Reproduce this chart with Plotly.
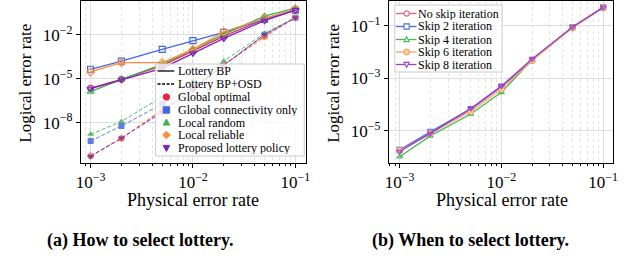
import plotly.graph_objects as go

W, H = 639, 260

# ---------------- data ----------------
p_phys = [0.001, 0.002, 0.005, 0.01, 0.02, 0.05, 0.1]

policy_names = ["Global optimal", "Global connectivity only", "Local random",
                "Local reliable", "Proposed lottery policy"]

# Lottery BP (solid)
bp_global_optimal = [2.24e-6, 9.1e-6, 7.8e-5, 7.8e-4, 8.1e-3, 0.112, 0.48]
bp_global_conn = [4.4e-5, 1.6e-4, 1.0e-3, 3.9e-3, 1.45e-2, 0.112, 0.48]
bp_local_random = [1.3e-6, 9.1e-6, 9.5e-5, 1.0e-3, 1.07e-2, 0.186, 0.66]
bp_local_reliable = [2.9e-5, 1.23e-4, 1.23e-4, 1.0e-3, 1.6e-2, 0.13, 0.56]
bp_proposed = [2.1e-6, 8.5e-6, 5.1e-5, 5.4e-4, 5.6e-3, 0.091, 0.48]

# Lottery BP+OSD (dashed)
osd_global_optimal = [5.4e-11, 8.5e-10, 6.6e-8, 1.9e-6, 8.5e-5, 7.4e-3, 0.145]
osd_global_conn = [5.6e-10, 6.0e-9, 1.9e-7, 2.6e-6, 8.5e-5, 1.0e-2, 0.145]
osd_local_random = [1.6e-9, 1.2e-8, 5.9e-7, 6.9e-6, 1.6e-4, 1.26e-2, 0.145]
osd_local_reliable = [5.4e-11, 8.5e-10, 7.9e-8, 1.9e-6, 8.5e-5, 7.4e-3, 0.145]
osd_proposed = [5.0e-11, 8.9e-10, 5.1e-8, 1.8e-6, 8.5e-5, 1.0e-2, 0.145]

# Skip iterations (right panel)
skip_names = ["No skip iteration", "Skip 2 iteration", "Skip 4 iteration",
              "Skip 6 iteration", "Skip 8 iteration"]
skip_0 = [1.74e-6, 8.5e-6, 6.6e-5, 4.8e-4, 5.1e-3, 0.089, 0.51]
skip_2 = [1.9e-6, 9.3e-6, 6.9e-5, 4.9e-4, 5.1e-3, 0.089, 0.51]
skip_4 = [1.05e-6, 6.5e-6, 4.4e-5, 2.95e-4, 5.0e-3, 0.087, 0.51]
skip_6 = [1.8e-6, 8.1e-6, 5.5e-5, 3.9e-4, 4.7e-3, 0.085, 0.50]
skip_8 = [1.66e-6, 8.1e-6, 7.2e-5, 5.1e-4, 5.5e-3, 0.091, 0.51]

x_tickvals = [1e-3, 1e-2, 1e-1]
x_ticktext = ["10<sup>−3</sup>", "10<sup>−2</sup>", "10<sup>−1</sup>"]
yl_tickvals = [1e-8, 1e-5, 1e-2]
yl_ticktext = ["10<sup>−8</sup>", "10<sup>−5</sup>", "10<sup>−2</sup>"]
yr_tickvals = [1e-5, 1e-3, 1e-1]
yr_ticktext = ["10<sup>−5</sup>", "10<sup>−3</sup>", "10<sup>−1</sup>"]

# ---------------- style ----------------
FONT = "Liberation Serif"
pol_colors = ["#e8254a", "#4169e1", "#3cb44b", "#fd8d3c", "#7d22c6"]
pol_symbols = ["circle", "square", "triangle-up", "diamond", "triangle-down"]
skip_colors = ["#e8607f", "#4a6ee0", "#44bb55", "#f8a868", "#9b40d0"]
skip_symbols = ["circle-open", "square-open", "triangle-up-open", "circle", "triangle-down-open"]

bp_series = [bp_global_optimal, bp_global_conn, bp_local_random, bp_local_reliable, bp_proposed]
osd_series = [osd_global_optimal, osd_global_conn, osd_local_random, osd_local_reliable, osd_proposed]
skip_series = [skip_0, skip_2, skip_4, skip_6, skip_8]

fig = go.Figure()

for name, ys, c, s in zip(policy_names, osd_series, pol_colors, pol_symbols):
    fig.add_trace(go.Scatter(x=p_phys, y=ys, mode="lines+markers", name=name + " (BP+OSD)",
                             line=dict(color=c, width=1, dash="4px,2px"), opacity=0.85,
                             marker=dict(symbol=s, size=6, color=c),
                             showlegend=False, xaxis="x", yaxis="y"))
for name, ys, c, s in zip(policy_names, bp_series, pol_colors, pol_symbols):
    fig.add_trace(go.Scatter(x=p_phys, y=ys, mode="lines+markers", name=name + " (BP)",
                             line=dict(color=c, width=1.3),
                             marker=dict(symbol=s + "-open", size=6, color=c, line=dict(width=1.2)),
                             showlegend=False, xaxis="x", yaxis="y"))
for name, ys, c, s in zip(skip_names, skip_series, skip_colors, skip_symbols):
    mk = dict(symbol=s, size=5, color=c, line=dict(width=1.1, color=c))
    if s == "circle":
        mk = dict(symbol="circle", size=6, color="#fcc89c", line=dict(width=1, color="#f59a50"))
    fig.add_trace(go.Scatter(x=p_phys, y=ys, mode="lines+markers", name=name,
                             line=dict(color=c, width=1.3), marker=mk,
                             showlegend=False, xaxis="x2", yaxis="y2"))

minor_x = [m * 10 ** e for e in (-4, -3, -2, -1) for m in range(2, 10)]

TICKSIZE = 17

def xaxis_cfg(domain, rng, anchor):
    return dict(type="log", domain=domain, range=rng, anchor=anchor,
                tickmode="array", tickvals=x_tickvals, ticktext=x_ticktext,
                ticks="outside", ticklen=4, tickcolor="black",
                showline=True, linecolor="black", linewidth=1, mirror=True,
                showgrid=True, gridcolor="#dedede", gridwidth=1, zeroline=False,
                tickfont=dict(family=FONT, size=TICKSIZE, color="black"),
                minor=dict(tickmode="array", tickvals=minor_x, ticks="outside", ticklen=2,
                           tickcolor="black", showgrid=True, gridcolor="#e4e4e4", griddash="dot"))

def yaxis_cfg(domain, rng, anchor, tv, tt):
    return dict(type="log", domain=domain, range=rng, anchor=anchor,
                tickmode="array", tickvals=tv, ticktext=tt,
                ticks="outside", ticklen=4, tickcolor="black",
                showline=True, linecolor="black", linewidth=1, mirror=True,
                showgrid=True, gridcolor="#dedede", gridwidth=1, zeroline=False,
                tickfont=dict(family=FONT, size=TICKSIZE, color="black"))

ydom = [1 - 163 / H, 1 - 1 / H]
fig.update_layout(
    width=W, height=H, margin=dict(l=0, r=0, t=0, b=0),
    paper_bgcolor="white", plot_bgcolor="white", showlegend=False,
    xaxis=xaxis_cfg([77 / W, 306 / W], [-3.096, -0.894], "y"),
    yaxis=yaxis_cfg(ydom, [-10.75, 0.30], "x", yl_tickvals, yl_ticktext),
    xaxis2=xaxis_cfg([390 / W, 617.7 / W], [-3.106, -0.903], "y2"),
    yaxis2=yaxis_cfg(ydom, [-6.22, -0.05], "x2", yr_tickvals, yr_ticktext),
)

def P(x, y):
    return x / W, 1 - y / H

shapes = []
annotations = []

def text(x, y, s, size=12, xanchor="left", angle=0, bold=False, height=None):
    px, py = P(x, y)
    a = dict(x=px, y=py, xref="paper", yref="paper", text=("<b>%s</b>" % s) if bold else s,
             showarrow=False, xanchor=xanchor, yanchor="middle", textangle=angle,
             borderpad=0, font=dict(family=FONT, size=size, color="black"))
    if height is not None:
        a["height"] = height
    annotations.append(a)

def marker_shape(x, y, sym, color, r=3.2, fill=None, lw=1):
    px, py = P(x, y)
    base = dict(xref="paper", yref="paper", xsizemode="pixel", ysizemode="pixel",
                xanchor=px, yanchor=py, line=dict(color=color, width=lw),
                fillcolor=fill if fill is not None else color)
    if sym == "circle":
        base.update(type="circle", x0=-r, x1=r, y0=-r, y1=r)
    elif sym == "square":
        base.update(type="rect", x0=-r, x1=r, y0=-r, y1=r)
    elif sym == "triangle-up":
        base.update(type="path", path="M %f,%f L %f,%f L 0,%f Z" % (-r, -r * 0.8, r, -r * 0.8, r * 1.1))
    elif sym == "triangle-down":
        base.update(type="path", path="M %f,%f L %f,%f L 0,%f Z" % (-r, r * 0.8, r, r * 0.8, -r * 1.1))
    elif sym == "diamond":
        base.update(type="path", path="M 0,%f L %f,0 L 0,%f L %f,0 Z" % (r * 1.2, r * 1.2, -r * 1.2, -r * 1.2))
    shapes.append(base)

def hline(x0, x1, y, color, dash="solid", width=1.3):
    a0, b0 = P(x0, y)
    a1, _ = P(x1, y)
    shapes.append(dict(type="line", xref="paper", yref="paper", x0=a0, x1=a1, y0=b0, y1=b0,
                       line=dict(color=color, width=width, dash=dash)))

def box(x0, y0, x1, y1):
    a0, b0 = P(x0, y0)
    a1, b1 = P(x1, y1)
    shapes.append(dict(type="rect", xref="paper", yref="paper", x0=a0, x1=a1, y0=b1, y1=b0,
                       line=dict(color="#cccccc", width=1), fillcolor="rgba(255,255,255,0.8)"))

# left legend
box(153, 64, 304, 156)
rows = [71, 84, 97, 110, 122.5, 135, 148]
hline(155, 172, rows[0], "black")
text(175, rows[0], "Lottery BP", height=12)
hline(155, 172, rows[1], "black", dash="3px,1.5px")
text(175, rows[1], "Lottery BP+OSD", height=12)
for i, (name, c, s) in enumerate(zip(policy_names, pol_colors, pol_symbols)):
    marker_shape(164, rows[i + 2], s, c)
    text(175, rows[i + 2], name, height=12)

# right legend
box(396, 5, 505, 72)
rrows = [13.5, 26.5, 39.5, 52, 64.5]
for i, (name, c, s) in enumerate(zip(skip_names, skip_colors, skip_symbols)):
    hline(397, 418, rrows[i], c)
    if s == "circle":
        marker_shape(408, rrows[i], "circle", "#f59a50", r=3, fill="#fcc89c")
    else:
        marker_shape(408, rrows[i], s.replace("-open", ""), c, r=2.6, fill="white", lw=1.1)
    text(419, rrows[i], name, height=12)

# axis titles and captions
text(20, 83, "Logical error rate", size=17, xanchor="center", angle=-90)
text(333, 83, "Logical error rate", size=17, xanchor="center", angle=-90)
text(191, 200, "Physical error rate", size=18, xanchor="center")
text(505, 200, "Physical error rate", size=18, xanchor="center")
text(137, 240, "(a) How to select lottery.", size=18, xanchor="center", bold=True)
text(473, 240, "(b) When to select lottery.", size=18, xanchor="center", bold=True)

fig.update_layout(shapes=shapes, annotations=annotations)
fig.write_html("out.html", config={"displayModeBar": False},
               post_script="document.body.style.margin='0';")
